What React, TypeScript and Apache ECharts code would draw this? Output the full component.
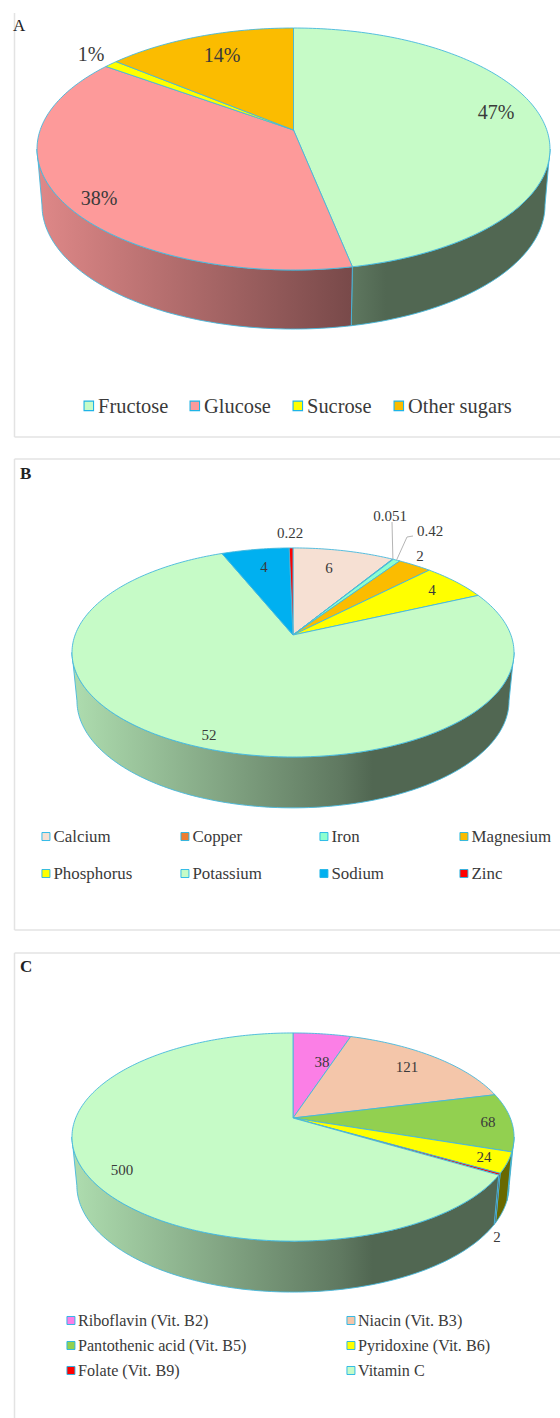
import React, { useEffect, useRef } from "react";
import * as echarts from "echarts";

// ---------- data ----------
const sugarNames = ["Fructose", "Glucose", "Sucrose", "Other sugars"];
const sugarValues = [46.85, 38.15, 1, 14];
const sugarLabels = ["47%", "38%", "1%", "14%"];
const sugarColors = ["#c6fbc7", "#fd9a9a", "#ffff00", "#fbbc00"];

const mineralNames = ["Calcium", "Copper", "Iron", "Magnesium", "Phosphorus", "Potassium", "Sodium", "Zinc"];
const mineralValues = [6, 0.051, 0.42, 2, 4, 52, 4, 0.22];
const mineralLabels = ["6", "0.051", "0.42", "2", "4", "52", "4", "0.22"];
const mineralColors = ["#f6e0d3", "#ed7d31", "#8effcf", "#fbbc00", "#ffff00", "#c6fbc7", "#00b0f0", "#ff0000"];

const vitaminNames = ["Riboflavin (Vit. B2)", "Niacin (Vit. B3)", "Pantothenic acid (Vit. B5)", "Pyridoxine (Vit. B6)", "Folate (Vit. B9)", "Vitamin C"];
const vitaminValues = [38, 121, 68, 24, 2, 500];
const vitaminLabels = ["38", "121", "68", "24", "2", "500"];
const vitaminColors = ["#fb7fe6", "#f4c6aa", "#92d050", "#ffff00", "#ff0000", "#c6fbc7"];

// ---------- layout ----------
const FONT = '"Liberation Serif", "Times New Roman", serif';
const EDGE = "#45b8dc";
const TEXT = "#3a3a3a";

type Rim = { a: number; b: number; cy: number };
type Layout = {
  cx: number; k: number; top: Rim; bottom: Rim; left: number; right: number;
  fontSize: number;
  labelAt: number[][];
  leaders: Record<number, number[][]>;
  legendAt: number[][];
  legendFont: number; swatch: number; swatchBorder: number; gap: number;
};

const layoutA: Layout = {
  cx: 293.5, k: 0.157,
  top: { a: 253.3, b: 118, cy: 130 },
  bottom: { a: 248.4, b: 121, cy: 185.5 },
  left: 37, right: 550, fontSize: 20,
  labelAt: [[496, 112], [99, 198], [91, 54], [222, 55]],
  leaders: {},
  legendAt: [[83.5, 407], [189.5, 407], [292.5, 407], [393.5, 407]],
  legendFont: 20.4, swatch: 9.5, swatchBorder: 1.1, gap: 4.5,
};
const layoutB: Layout = {
  cx: 293, k: 0.167,
  top: { a: 217.9, b: 101.6, cy: 635 },
  bottom: { a: 213, b: 104, cy: 683 },
  left: 72, right: 514, fontSize: 15,
  labelAt: [[329, 568], [390, 516], [430, 531], [420, 556], [432, 590], [209, 735], [264, 567], [290, 533]],
  leaders: { 1: [[392, 522]], 2: [[407, 537], [413, 536]] },
  legendAt: [[41.5, 837], [180.5, 837], [319.5, 837], [459.5, 837], [41.5, 874], [180.5, 874], [319.5, 874], [459.5, 874]],
  legendFont: 16.9, swatch: 8, swatchBorder: 0.9, gap: 3.5,
};
const layoutC: Layout = {
  cx: 293, k: 0.183,
  top: { a: 217.3, b: 100.6, cy: 1118 },
  bottom: { a: 212.5, b: 103, cy: 1166 },
  left: 72, right: 514, fontSize: 15,
  labelAt: [[322, 1062], [407, 1067], [488, 1122], [484, 1157], [497, 1237], [122, 1170]],
  leaders: {},
  legendAt: [[66.5, 1321], [346.5, 1321], [66.5, 1346], [346.5, 1346], [66.5, 1371], [346.5, 1371]],
  legendFont: 16.15, swatch: 8, swatchBorder: 0.9, gap: 3,
};

const rimPoint = (l: Layout, r: Rim, deg: number) => {
  const t = (deg * Math.PI) / 180;
  const u = Math.sin(t), v = -Math.cos(t), w = 1 - l.k * v;
  return [l.cx + (r.a * u) / w, r.cy + (r.b * v) / w];
};

const arc = (l: Layout, r: Rim, from: number, to: number) => {
  const n = Math.max(2, Math.ceil(Math.abs(to - from)));
  const pts: number[][] = [];
  for (let i = 0; i <= n; i++) pts.push(rimPoint(l, r, from + ((to - from) * i) / n));
  return pts;
};

const shade = (hex: string, f: number) => {
  const n = parseInt(hex.slice(1), 16);
  const c = [(n >> 16) & 255, (n >> 8) & 255, n & 255].map((x) => Math.round(x * f));
  return `rgb(${c[0]},${c[1]},${c[2]})`;
};

const spans = (values: number[]) => {
  const total = values.reduce((s, v) => s + v, 0);
  let acc = 0;
  return values.map((v) => {
    const from = (acc / total) * 360;
    acc += v;
    return [from, (acc / total) * 360];
  });
};

function pieSeries(id: string, names: string[], values: number[], labels: string[], colors: string[], l: Layout) {
  const ranges = spans(values);
  const frontStart = 90 + (Math.asin(l.k) * 180) / Math.PI;
  const frontEnd = 360 - frontStart;
  const series: any[] = [];

  // side wall, one item per slice
  series.push({
    type: "custom", id: id + "-wall", name: id + " wall", coordinateSystem: "none", z: 1, silent: true,
    data: values.map((v) => [v]),
    renderItem: (p: any) => {
      const [f0, t0] = ranges[p.dataIndex];
      const from = Math.max(f0, frontStart), to = Math.min(t0, frontEnd);
      if (to <= from) return { type: "group", children: [] };
      const c = colors[p.dataIndex];
      return {
        type: "polygon",
        shape: { points: [...arc(l, l.top, from, to), ...arc(l, l.bottom, to, from)] },
        style: {
          fill: new echarts.graphic.LinearGradient(l.left, 0, l.right, 0, [
            { offset: 0, color: shade(c, 0.88) },
            { offset: 0.61, color: shade(c, 0.48) },
            { offset: 0.68, color: shade(c, 0.41) },
            { offset: 1, color: shade(c, 0.41) },
          ], true),
          stroke: EDGE, lineWidth: 0.9,
        },
      };
    },
  });

  // top face, one series per slice so that the legend can name it
  names.forEach((name, i) => {
    series.push({
      type: "custom", name, coordinateSystem: "none", z: 2, silent: true,
      itemStyle: { color: colors[i] },
      data: [[values[i]]],
      renderItem: () => ({
        type: "polygon",
        shape: { points: [[l.cx, l.top.cy], ...arc(l, l.top, ranges[i][0], ranges[i][1])] },
        style: { fill: colors[i], stroke: EDGE, lineWidth: 0.9 },
      }),
    });
  });

  // labels and leader lines
  series.push({
    type: "custom", id: id + "-labels", name: id + " labels", coordinateSystem: "none", z: 3, silent: true,
    data: values.map((v) => [v]),
    renderItem: (p: any) => {
      const i = p.dataIndex;
      const [x, y] = l.labelAt[i];
      const children: any[] = [];
      const leader = l.leaders[i];
      if (leader) {
        const anchor = rimPoint(l, l.top, (ranges[i][0] + ranges[i][1]) / 2);
        children.push({
          type: "polyline",
          shape: { points: [anchor, ...leader] },
          style: { fill: "none", stroke: "#b5b5b5", lineWidth: 1 },
        });
      }
      children.push({
        type: "text",
        style: { text: labels[i], x, y, align: "center", verticalAlign: "middle", fill: TEXT, font: `${l.fontSize}px ${FONT}` },
      });
      return { type: "group", children };
    },
  });
  return series;
}

function pieLegends(names: string[], colors: string[], l: Layout) {
  return names.map((name, i) => ({
    show: true, left: l.legendAt[i][0], top: l.legendAt[i][1] - l.legendFont * 0.62 + 1.5, padding: 0,
    selectedMode: false, icon: "rect", itemWidth: l.swatch, itemHeight: l.swatch, itemGap: 0,
    textStyle: { fontFamily: FONT, fontSize: l.legendFont, color: TEXT, padding: [0, 0, 0, l.gap - 5] },
    data: [{ name, itemStyle: { color: colors[i], borderColor: "#1fb4e6", borderWidth: l.swatchBorder } }],
  }));
}

const PANEL = { stroke: "#e3e3e3", lineWidth: 1.5 };
const panelLines = [
  [14.5, 13, 14.5, 437], [14.5, 437, 560, 437],
  [14.5, 459, 560, 459], [14.5, 459, 14.5, 930], [14.5, 930, 560, 930],
  [14.5, 953, 560, 953], [14.5, 953, 14.5, 1418],
];

export default function App() {
  const ref = useRef<HTMLDivElement>(null);
  useEffect(() => {
    const chart = echarts.init(ref.current!, undefined, { renderer: "svg" });
    chart.setOption({
      animation: false,
      backgroundColor: "#ffffff",
      title: [
        { text: "A", left: 13, top: 17, padding: 0, textStyle: { fontFamily: FONT, fontSize: 17, fontWeight: "normal", color: "#222" } },
        { text: "B", left: 20, top: 465, padding: 0, textStyle: { fontFamily: FONT, fontSize: 17, fontWeight: "bold", color: "#222" } },
        { text: "C", left: 20, top: 958, padding: 0, textStyle: { fontFamily: FONT, fontSize: 17, fontWeight: "bold", color: "#222" } },
      ],
      legend: [
        ...pieLegends(sugarNames, sugarColors, layoutA),
        ...pieLegends(mineralNames, mineralColors, layoutB),
        ...pieLegends(vitaminNames, vitaminColors, layoutC),
      ],
      graphic: panelLines.map(([x1, y1, x2, y2]) => ({
        type: "line", z: 0, silent: true, shape: { x1, y1, x2, y2 }, style: PANEL,
      })),
      series: [
        ...pieSeries("sugars", sugarNames, sugarValues, sugarLabels, sugarColors, layoutA),
        ...pieSeries("minerals", mineralNames, mineralValues, mineralLabels, mineralColors, layoutB),
        ...pieSeries("vitamins", vitaminNames, vitaminValues, vitaminLabels, vitaminColors, layoutC),
      ],
    });
    return () => chart.dispose();
  }, []);
  return <div ref={ref} style={{ position: "absolute", left: 0, top: 0, width: 560, height: 1418 }} />;
}
